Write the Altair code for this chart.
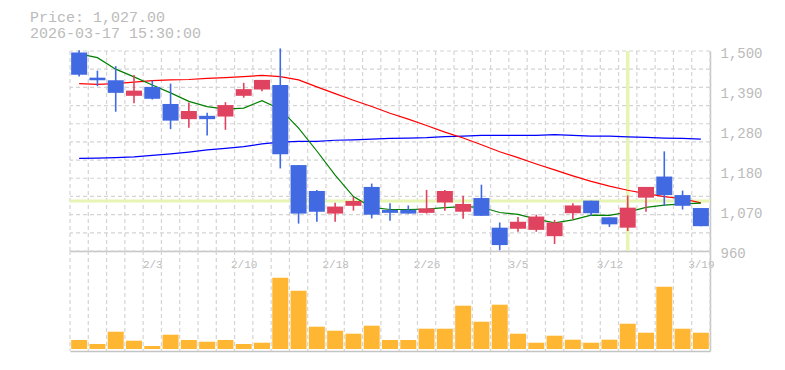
import altair as alt
import pandas as pd

# ---------------- data ----------------
idx = list(range(1, 36))
opens = [1496, 1428, 1421, 1379, 1403, 1357, 1316, 1325, 1323, 1379, 1396, 1408, 1192, 1122, 1061, 1082, 1133, 1071,
         1071, 1063, 1091, 1066, 1103, 1023, 1020, 1017, 1000, 1062, 1096, 1051, 1023, 1104, 1161, 1111, 1076]
closes = [1436, 1421, 1387, 1393, 1371, 1312, 1338, 1316, 1354, 1397, 1422, 1221, 1061, 1066, 1080, 1095, 1058, 1063,
          1061, 1075, 1122, 1087, 1055, 976, 1039, 1053, 1037, 1083, 1062, 1032, 1077, 1133, 1111, 1082, 1027]
highs = [1502, 1447, 1459, 1435, 1420, 1412, 1361, 1333, 1362, 1414, 1422, 1507, 1192, 1125, 1090, 1106, 1142, 1089,
         1083, 1125, 1125, 1109, 1139, 1037, 1052, 1058, 1044, 1089, 1096, 1051, 1110, 1133, 1229, 1123, 1076]
lows = [1431, 1405, 1336, 1359, 1369, 1289, 1293, 1272, 1287, 1374, 1391, 1183, 1034, 1039, 1039, 1069, 1048, 1042,
        1061, 1061, 1069, 1047, 1055, 962, 1012, 1012, 979, 1046, 1055, 1025, 1014, 1066, 1082, 1072, 1027]
ma_short = [1492, 1482, 1451, 1430, 1408, 1387, 1364, 1350, 1343, 1346, 1366, 1343, 1292, 1230, 1165, 1107, 1078, 1072,
            1072, 1073, 1077, 1080, 1078, 1064, 1059, 1046, 1036, 1044, 1057, 1056, 1065, 1078, 1084, 1087, 1089]
ma_mid = [1412, 1410, 1412, 1416, 1420, 1422, 1423, 1426, 1428, 1431, 1434, 1431, 1422, 1403, 1385, 1367, 1350, 1332,
          1316, 1299, 1281, 1265, 1247, 1228, 1212, 1195, 1179, 1163, 1148, 1135, 1124, 1115, 1107, 1101, 1090]
ma_long = [1210, 1211, 1212, 1214, 1218, 1222, 1227, 1233, 1237, 1242, 1249, 1254, 1256, 1256, 1259, 1260, 1262, 1264,
           1265, 1266, 1269, 1270, 1272, 1272, 1272, 1272, 1274, 1272, 1270, 1270, 1268, 1267, 1265, 1264, 1262]
volumes = [9.0, 5.0, 17.3, 8.3, 3.0, 14.3, 9.0, 7.3, 9.0, 5.0, 6.3, 71.3, 58.3, 22.3, 18.3, 15.3, 23.3, 9.0,
           9.0, 20.3, 20.3, 43.3, 27.3, 44.3, 15.3, 6.3, 13.3, 9.3, 6.3, 9.3, 25.3, 16.3, 62.3, 20.3, 16.3]

tick_idx = [5, 10, 15, 20, 25, 30, 35]
tick_labels = ["2/3", "2/10", "2/18", "2/26", "3/5", "3/12", "3/19"]
price_ticks = [960, 1068, 1176, 1284, 1392, 1500]
header_lines = ["Price: 1,027.00", "2026-03-17 15:30:00"]
cross_index = [31]
cross_price = [1095]

# ---------------- styling ----------------
FONT = "Liberation Mono"
TXT = "#bbbbbb"
GRID = "#d4d4d4"
DOMAIN = "#c4c4c4"
UP = "#e0435f"
DOWN = "#4169e1"
VOL = "#ffb733"
CROSS = "#e6f4b4"

df = pd.DataFrame(dict(i=idx, open=opens, close=closes, high=highs, low=lows,
                       ma_s=ma_short, ma_m=ma_mid, ma_l=ma_long, vol=volumes))
df["dir"] = ["up" if c >= o else "down" for o, c in zip(opens, closes)]

xs = alt.Scale(domain=[0.5, 35.5], nice=False, zero=False, padding=0)
ys = alt.Scale(domain=[960, 1500], nice=False, zero=False)
vs = alt.Scale(domain=[-2, 98], nice=False, zero=False)
cs = alt.Scale(domain=["up", "down"], range=[UP, DOWN])

label_expr = " : ".join(f"datum.value == {v} ? '{t}'" for v, t in zip(tick_idx, tick_labels)) + " : ''"

x_axis = alt.Axis(values=tick_idx, labelExpr=label_expr, title=None, ticks=False, tickSize=0, grid=False,
                  domainColor=DOMAIN, domainWidth=1.5, labelFont=FONT, labelFontSize=11, labelColor=TXT,
                  labelPadding=7, labelOverlap=False, labelFlush=False)
y_axis = alt.Axis(values=price_ticks, format=",.3r", orient="right", title=None, ticks=False, tickSize=0,
                  grid=False, domainColor=DOMAIN, domainWidth=1.5, labelFont=FONT, labelFontSize=14,
                  labelColor=TXT, labelPadding=10, labelOffset=2)


def X(field):
    return alt.X(field, scale=xs, axis=x_axis)


def Y(field):
    return alt.Y(field, scale=ys, axis=y_axis)


grid_x_vals = pd.DataFrame({"g": [0.5 + k for k in range(36)]})
grid_y_vals = pd.DataFrame({"p": [960 + k * 540 / 11 for k in range(12)]})

grid_v = alt.Chart(grid_x_vals).mark_rule(color=GRID, strokeWidth=1.2, strokeDash=[4, 3]).encode(x=X("g:Q"))
grid_h = alt.Chart(grid_y_vals).mark_rule(color=GRID, strokeWidth=1.2, strokeDash=[4, 3]).encode(y=Y("p:Q"))

cross_v = alt.Chart(pd.DataFrame({"c": cross_index})).mark_rule(color=CROSS, strokeWidth=3.5).encode(x=X("c:Q"))
cross_h = alt.Chart(pd.DataFrame({"c": cross_price})).mark_rule(color=CROSS, strokeWidth=3).encode(y=Y("c:Q"))

base = alt.Chart(df)
ma_lines = [
    base.mark_line(color=col, strokeWidth=1.2).encode(x=X("i:Q"), y=Y(f"{f}:Q"))
    for f, col in [("ma_l", "#0000ff"), ("ma_m", "#ff0000"), ("ma_s", "#008000")]
]
wicks = base.mark_rule(strokeWidth=1.6).encode(
    x=X("i:Q"), y=Y("low:Q"), y2="high:Q",
    color=alt.Color("dir:N", scale=cs, legend=None))
bodies = base.mark_bar(size=16).encode(
    x=X("i:Q"), y=Y("open:Q"), y2="close:Q",
    color=alt.Color("dir:N", scale=cs, legend=None))

head1 = alt.Chart(pd.DataFrame({"t": [header_lines[0]]})).mark_text(
    align="left", baseline="top", font=FONT, fontSize=15, color=TXT).encode(
    x=alt.value(-40), y=alt.value(-41), text="t:N")
head2 = alt.Chart(pd.DataFrame({"t": [header_lines[1]]})).mark_text(
    align="left", baseline="top", font=FONT, fontSize=15, color=TXT).encode(
    x=alt.value(-40), y=alt.value(-25), text="t:N")

upper = alt.layer(grid_h, grid_v, cross_h, cross_v, *ma_lines, wicks, bodies, head1, head2).properties(
    width=640, height=200)

vol_x_axis = alt.Axis(labels=False, ticks=False, tickSize=0, grid=False, title=None,
                      domainColor=DOMAIN, domainWidth=1.5)
vol_y_axis = alt.Axis(labels=False, ticks=False, tickSize=0, grid=False, title=None, orient="right",
                      domainColor=DOMAIN, domainWidth=1.5)
vol_grid = alt.Chart(grid_x_vals).mark_rule(color=GRID, strokeWidth=1.2, strokeDash=[4, 3]).encode(
    x=alt.X("g:Q", scale=xs, axis=vol_x_axis))
vol_bars = base.mark_bar(size=16, color=VOL).encode(
    x=alt.X("i:Q", scale=xs, axis=vol_x_axis),
    y=alt.Y("vol:Q", scale=vs, axis=vol_y_axis))
lower = alt.layer(vol_grid, vol_bars).properties(width=640, height=100)

chart = alt.vconcat(upper, lower, spacing=0, bounds="flush").properties(
    padding={"left": 22, "top": 2, "right": 5, "bottom": 5}
).configure_view(stroke=None)

chart.save("out.html", embed_options={"renderer": "svg", "actions": False})
